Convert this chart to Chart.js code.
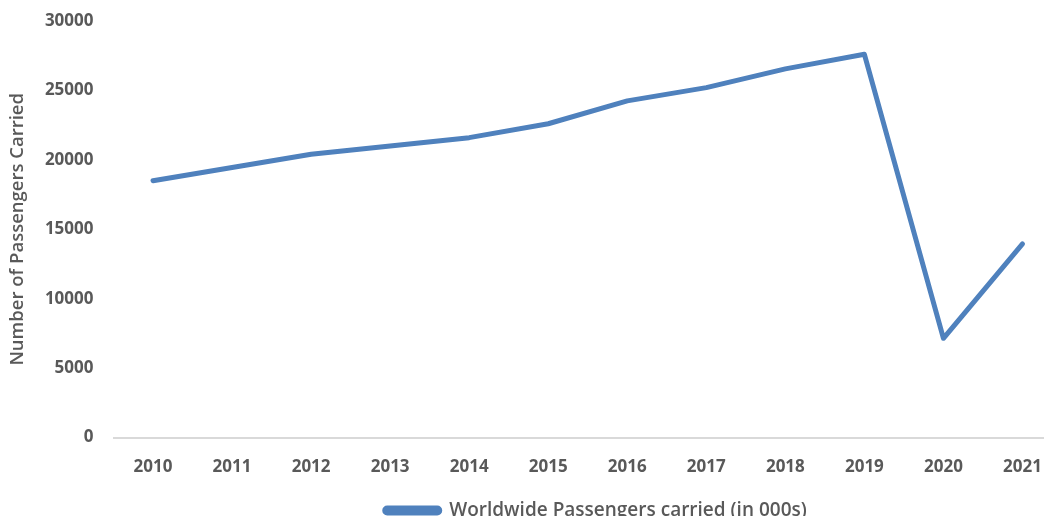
<!DOCTYPE html>
<html>
<head>
<meta charset="utf-8">
<script src="https://cdn.jsdelivr.net/npm/chart.js@4/dist/chart.umd.min.js"></script>
<style>
  html, body { margin: 0; padding: 0; overflow: hidden; background: #fff; }
  #wrap { width: 1062px; height: 516px; }
</style>
</head>
<body>
<div id="wrap"><canvas id="chart"></canvas></div>
<script>
var years = ['2010', '2011', '2012', '2013', '2014', '2015', '2016', '2017', '2018', '2019', '2020', '2021'];
var passengers = [18500, 19450, 20400, 21000, 21600, 22600, 24250, 25200, 26550, 27600, 7150, 13950];
var seriesLabel = 'Worldwide Passengers carried (in 000s)';
var yTitle = 'Number of Passengers Carried';

var textColor = '#595959';
var lineColor = '#4F81BD';
var fontFamily = "'Open Sans', 'Noto Sans', sans-serif";

// nudge the legend a little to the right of the plot centre
var legendShift = {
    id: 'legendShift',
    afterLayout: function(chart) {
        chart.legend.left += 8;
        chart.legend.right += 8;
    }
};

var context = document.getElementById('chart').getContext('2d');
var chart = new Chart(context, {
    type: 'line',
    data: {
        labels: years,
        datasets: [{
            label: seriesLabel,
            data: passengers,
            borderColor: lineColor,
            backgroundColor: lineColor,
            borderWidth: 5,
            borderCapStyle: 'round',
            borderJoinStyle: 'round',
            pointRadius: 0,
            pointHoverRadius: 0,
            tension: 0,
            fill: false
        }]
    },
    plugins: [legendShift],
    options: {
        responsive: true,
        maintainAspectRatio: false,
        animation: false,
        layout: {
            padding: { top: 21, left: 7, right: 0, bottom: -14 }
        },
        plugins: {
            tooltip: { enabled: false },
            legend: {
                position: 'bottom',
                fullSize: false,
                labels: {
                    color: textColor,
                    boxWidth: 55,
                    boxHeight: 5,
                    useBorderRadius: true,
                    borderRadius: 2.5,
                    padding: 5,
                    font: { family: fontFamily, size: 19, weight: '600' }
                }
            }
        },
        scales: {
            x: {
                offset: true,
                grid: { display: false, drawTicks: false },
                border: { display: true, color: '#D9D9D9', width: 2 },
                ticks: {
                    color: textColor,
                    padding: 19,
                    maxRotation: 0,
                    font: { family: fontFamily, size: 17, weight: 'bold' }
                }
            },
            y: {
                min: 0,
                max: 30000,
                grid: { display: false, drawTicks: false },
                border: { display: false },
                ticks: {
                    stepSize: 5000,
                    color: textColor,
                    padding: 20,
                    font: { family: fontFamily, size: 17, weight: 'bold' },
                    callback: function(value) { return String(value); }
                },
                title: {
                    display: true,
                    text: yTitle,
                    color: textColor,
                    padding: 0,
                    font: { family: fontFamily, size: 18.5, weight: '600' }
                },
                // fixed axis width so the plot starts where the labels end
                afterFit: function(scale) {
                    scale.width = 106.5;
                    scale.paddingTop = 0;
                }
            }
        }
    }
});
</script>
</body>
</html>
